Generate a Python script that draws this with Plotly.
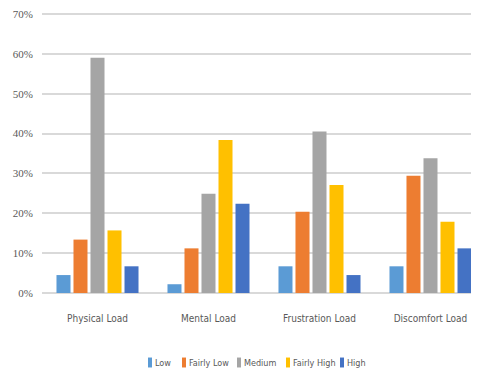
import plotly.graph_objects as go

categories = ["Physical Load", "Mental Load", "Frustration Load", "Discomfort Load"]
series_names = ["Low", "Fairly Low", "Medium", "Fairly High", "High"]
low = [4.5, 2.2, 6.7, 6.7]
fairly_low = [13.4, 11.2, 20.4, 29.4]
medium = [59.0, 24.9, 40.5, 33.8]
fairly_high = [15.7, 38.4, 27.1, 17.9]
high = [6.7, 22.4, 4.5, 11.2]
tick_vals = [0, 10, 20, 30, 40, 50, 60, 70]
tick_text = ["0%", "10%", "20%", "30%", "40%", "50%", "60%", "70%"]

colors = ["#5B9BD5", "#ED7D31", "#A5A5A5", "#FFC000", "#4472C4"]
values = [low, fairly_low, medium, fairly_high, high]

# page has an 8px body margin; size the figure so the page does not overflow
W, H = 471, 360
L, R, T, B = 34, 0, 2, 75
PW, PH = W - L - R, H - T - B
OFF = 8

def px_x(px):
    return (px - OFF - L) / PW

def px_y(py):
    return (H - B - (py - OFF)) / PH

fig = go.Figure()
for name, vals, col in zip(series_names, values, colors):
    fig.add_trace(go.Bar(x=categories, y=vals, name=name, marker_color=col,
                         marker_line_width=0, showlegend=False))

# compact legend (marker + label) like the reference
legend_marker_px = [148, 182, 237, 286, 340]
for name, col, mx in zip(series_names, colors, legend_marker_px):
    fig.add_shape(type="rect", xref="paper", yref="paper",
                  x0=px_x(mx), x1=px_x(mx + 4), y0=px_y(368), y1=px_y(358),
                  fillcolor=col, line_width=0)
    fig.add_annotation(xref="paper", yref="paper", x=px_x(mx + 5), y=px_y(363),
                       xanchor="left", yanchor="middle", text=name, showarrow=False,
                       font=dict(family="DejaVu Sans Condensed, sans-serif", size=9,
                                 color="#595959"))

fig.update_layout(
    width=W, height=H,
    margin=dict(l=L, r=R, t=T, b=B),
    paper_bgcolor="white", plot_bgcolor="white",
    barmode="group", bargap=0.234, bargroupgap=0.176,
    font=dict(family="DejaVu Sans Condensed, sans-serif", color="#595959", size=10),
    xaxis=dict(range=[-0.5, 3.437], showgrid=False, showline=False, ticks="",
               ticklabelstandoff=18,
               tickfont=dict(family="DejaVu Sans Condensed, sans-serif", size=10)),
    yaxis=dict(range=[0, 70.5], tickvals=tick_vals, ticktext=tick_text,
               showgrid=True, gridcolor="#D9D9D9", gridwidth=1.5,
               zeroline=True, zerolinecolor="#D9D9D9", zerolinewidth=1.5,
               showline=False, ticks="", ticklabelstandoff=8,
               ticklabeloverflow="allow",
               tickfont=dict(family="Liberation Serif, serif", size=11, color="#595959")),
    showlegend=False,
)

fig.write_html("out.html")
